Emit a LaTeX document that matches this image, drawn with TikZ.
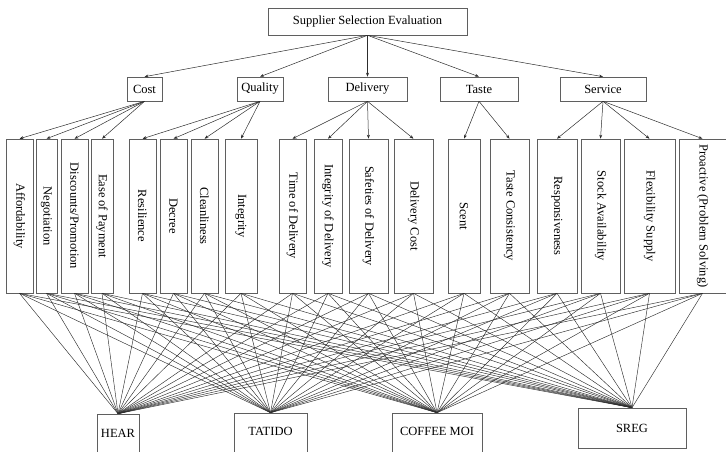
\documentclass[tikz,border=0pt]{standalone}
\usepackage{fontspec}
\setmainfont{Liberation Serif}
\usetikzlibrary{arrows.meta}
\definecolor{boxGray}{RGB}{95, 95, 95}
\definecolor{lineGray}{RGB}{45, 45, 45}

\begin{document}
\begin{tikzpicture}[x=1pt, y=-1pt,
    box/.style={draw=boxGray, line width=0.6pt, inner sep=0pt, font=\fontsize{12.5}{14}\selectfont},
    arr/.style={-{Stealth[length=4pt, width=3pt]}, draw=lineGray, line width=0.5pt},
    link/.style={draw=lineGray, line width=0.45pt}]
          \clip (0,0) rectangle (726,451);
          % Goal
          \node[box, minimum width=199pt, minimum height=27pt] (goal) at (367.5,21.5) {Supplier Selection Evaluation};
          % Criteria
          \foreach \n/\x/\w/\t in {cost/144.5/35/Cost, quality/260/46/Quality, delivery/367.5/79/Delivery,
                                   taste/479/78/Taste, service/603/86/Service}
            \node[box, minimum width=\w pt, minimum height=24pt] (\n) at (\x,89) {\t};
          % Sub-criteria
          \foreach \n/\x/\w/\t in {aff/19.5/27/Affordability, neg/46.5/21/Negotiation,
                                   disc/74.5/27/{Discounts/Promotion}, ease/102/22/Ease of Payment,
                                   res/142.5/27/Resilience, dec/173.5/27/Decree, clean/204.5/27/Cleanliness,
                                   integ/241/32/Integrity, time/292.5/27/Time of Delivery,
                                   intdel/328/28/Integrity of Delivery, safe/368.5/39/Safeties of Delivery,
                                   dcost/413.5/39/Delivery Cost, scent/464/32/Scent,
                                   tcons/509.5/39/Taste Consistency, resp/557/40/Responsiveness,
                                   stock/600.5/39/Stock Availability, flex/649.5/51/Flexibility Supply,
                                   proac/702.5/47/Proactive (Problem Solving)}
            \node[box, minimum width=\w pt, minimum height=154pt] (\n) at (\x,216) {\rotatebox{-90}{\t}};
          % Alternatives
          \node[box, minimum width=42pt, minimum height=44pt] (hear) at (118,436) {};
          \node at (118,433) {\fontsize{12.5}{14}\selectfont HEAR};
          \node[box, minimum width=73pt, minimum height=44pt] (tatido) at (270.5,435) {};
          \node at (270.5,431) {\fontsize{12.5}{14}\selectfont TATIDO};
          \node[box, minimum width=90pt, minimum height=44pt] (coffee) at (437,435) {};
          \node at (437,431) {\fontsize{12.5}{14}\selectfont COFFEE MOI};
          \node[box, minimum width=108pt, minimum height=40pt] (sreg) at (632,428) {SREG};
          % Arrows
          \foreach \c in {cost,quality,delivery,taste,service}
            \draw[arr] (goal.south) -- (\c.north);
          \foreach \s in {aff,neg,disc,ease} \draw[arr] (cost.south) -- (\s.north);
          \foreach \s in {res,dec,clean,integ} \draw[arr] (quality.south) -- (\s.north);
          \foreach \s in {time,intdel,safe,dcost} \draw[arr] (delivery.south) -- (\s.north);
          \foreach \s in {scent,tcons} \draw[arr] (taste.south) -- (\s.north);
          \foreach \s in {resp,stock,flex,proac} \draw[arr] (service.south) -- (\s.north);
          % Links to alternatives
          \foreach \s in {aff,neg,disc,ease,res,dec,clean,integ,time,intdel,safe,dcost,scent,tcons,resp,stock,flex,proac}
            \foreach \a in {hear,tatido,coffee,sreg}
              \draw[link] (\s.south) -- (\a.north);
        \end{tikzpicture}
\end{document}
